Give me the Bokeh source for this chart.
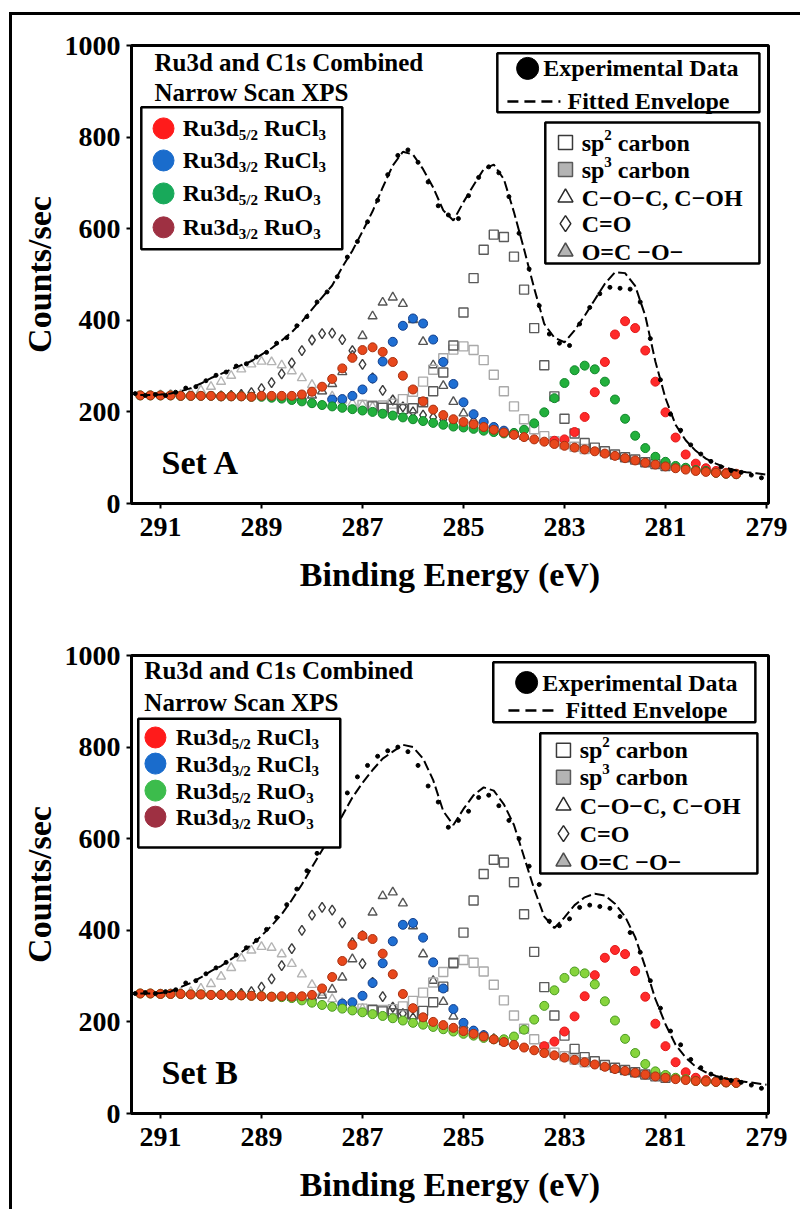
from bokeh.plotting import figure
from bokeh.models import Range1d, FixedTicker
from bokeh.layouts import column
from bokeh.embed import file_html
from bokeh.resources import INLINE
from bokeh.core.properties import value

# ---------------- data ----------------
energy = [291.4, 291.2, 291.0, 290.8, 290.6, 290.4, 290.2, 290.0, 289.8, 289.6,
          289.4, 289.2, 289.0, 288.8, 288.6, 288.4, 288.2, 288.0, 287.8, 287.6,
          287.4, 287.2, 287.0, 286.8, 286.6, 286.4, 286.2, 286.0, 285.8, 285.6,
          285.4, 285.2, 285.0, 284.8, 284.6, 284.4, 284.2, 284.0, 283.8, 283.6,
          283.4, 283.2, 283.0, 282.8, 282.6, 282.4, 282.2, 282.0, 281.8, 281.6,
          281.4, 281.2, 281.0, 280.8, 280.6, 280.4, 280.2, 280.0, 279.8, 279.6]
energy_env = energy + [279.4, 279.2, 279.0]
energy_exp = [291.5, 291.3, 291.1, 290.9, 290.7, 290.5, 290.3, 290.1, 289.9, 289.7,
              289.5, 289.3, 289.1, 288.9, 288.7, 288.5, 288.3, 288.1, 287.9, 287.7,
              287.5, 287.3, 287.1, 286.9, 286.7, 286.5, 286.3, 286.1, 285.9, 285.7,
              285.5, 285.3, 285.1, 284.9, 284.7, 284.5, 284.3, 284.1, 283.9, 283.7,
              283.5, 283.3, 283.1, 282.9, 282.7, 282.5, 282.3, 282.1, 281.9, 281.7,
              281.5, 281.3, 281.1, 280.9, 280.7, 280.5, 280.3, 280.1, 279.9, 279.7,
              279.5, 279.3, 279.1]
x_ticks = [291, 289, 287, 285, 283, 281, 279]
y_ticks = [0, 200, 400, 600, 800, 1000]

# ---- Set A ----
exp_a = [240, 236, 238, 236, 243, 252, 255, 268, 280, 287, 300, 305, 320, 330, 350, 362, 388, 408, 440, 462,
         495, 538, 572, 615, 662, 718, 760, 772, 745, 702, 650, 630, 622, 672, 712, 735, 722, 670, 590, 512,
         432, 370, 350, 345, 392, 428, 458, 472, 470, 468, 440, 360, 270, 195, 160, 128, 108, 92, 80, 72,
         68, 62, 56]
env_a = [237, 237, 238, 240, 245, 252, 262, 274, 283, 293, 302, 311, 325, 339, 356, 374, 397, 424, 450, 476,
         516, 552, 594, 638, 690, 738, 768, 762, 730, 690, 640, 618, 658, 695, 730, 740, 708, 636, 555, 470,
         392, 362, 352, 378, 410, 445, 480, 505, 503, 475, 410, 310, 230, 172, 138, 115, 98, 87, 78, 72,
         68, 66, 63]
red_a_start = 41
red_a = [137, 140, 156, 189, 243, 309, 369, 398, 383, 334, 266, 199, 144, 107, 87, 77, 71, 67, 65]
blue_a_start = 19
blue_a = [227, 228, 235, 249, 273, 310, 353, 388, 404, 393, 358, 309, 261, 221, 195, 178, 167, 159, 153]
green_a = [236, 236, 236, 236, 235, 235, 235, 235, 234, 234, 234, 233, 233, 231, 229, 226, 223, 219, 215, 212,
           209, 206, 203, 200, 196, 192, 188, 184, 180, 176, 172, 168, 166, 163, 159, 156, 153, 154, 161, 175,
           199, 230, 263, 291, 301, 293, 266, 227, 185, 148, 121, 102, 91, 82, 78, 73, 71, 67, 65, 64]
orange_a = [236, 236, 236, 236, 235, 235, 235, 235, 234, 234, 234, 233, 235, 235, 235, 235, 238, 244, 255, 272,
            295, 318, 335, 341, 331, 309, 279, 249, 223, 205, 193, 184, 178, 173, 167, 161, 155, 150, 145, 140,
            135, 130, 126, 122, 118, 114, 109, 104, 99, 94, 89, 85, 81, 77, 74, 71, 69, 67, 65, 64]
sp2_a_start = 23
sp2_a = [212, 209, 207, 206, 208, 221, 245, 286, 345, 417, 492, 554, 587, 582, 539, 467, 383, 302, 234, 185,
         153, 132, 122, 114, 107, 101, 96, 90, 86, 82]
sp3_a_start = 22
sp3_a = [215, 214, 214, 218, 228, 244, 266, 292, 317, 336, 343, 335, 313, 281, 245, 212, 184, 162, 147, 136,
         129, 124, 119]
coc_a_start = 15
coc_a = [232, 233, 236, 245, 261, 287, 323, 366, 409, 439, 450, 436, 401, 353, 302, 257, 222, 197, 181, 170,
         162, 156, 151, 146]
co_a_start = 8
co_a = [235, 236, 238, 242, 251, 264, 283, 307, 334, 357, 371, 372, 358, 334, 304, 274, 247, 226, 211, 200,
        193, 188, 183, 178]
oco_a_start = 2
oco_a = [237, 238, 238, 241, 247, 255, 266, 279, 293, 304, 310, 309, 302, 289, 274, 259, 245, 234, 225, 219,
         215, 211]

# ---- Set B ----
exp_b = [262, 264, 262, 266, 270, 285, 290, 305, 318, 330, 346, 362, 378, 402, 428, 456, 490, 530, 568, 605,
         648, 700, 735, 760, 780, 792, 800, 790, 760, 715, 680, 625, 640, 660, 690, 695, 672, 640, 600, 540,
         500, 420, 410, 425, 450, 455, 452, 448, 430, 395, 352, 290, 230, 180, 150, 118, 100, 86, 78, 72,
         68, 62, 55]
env_b = [262, 262, 263, 266, 276, 285, 297, 311, 322, 337, 352, 368, 388, 410, 435, 466, 500, 538, 575, 610,
         650, 690, 722, 750, 775, 790, 805, 800, 775, 728, 660, 630, 665, 695, 712, 705, 675, 630, 560, 490,
         430, 405, 428, 455, 472, 480, 476, 458, 430, 385, 320, 250, 195, 150, 122, 102, 90, 82, 76, 72,
         69, 66, 63]
red_b_start = 40
red_b = [147, 157, 179, 212, 256, 302, 340, 357, 348, 311, 255, 196, 147, 112, 90, 78, 73, 70, 68, 67]
blue_b_start = 20
blue_b = [240, 243, 257, 285, 328, 376, 412, 416, 384, 330, 273, 228, 198, 181, 171]
green_b = [262, 262, 261, 261, 261, 260, 260, 259, 259, 258, 258, 257, 256, 255, 254, 252, 247, 242, 237, 233,
           229, 225, 221, 217, 213, 208, 203, 198, 194, 189, 184, 179, 174, 170, 165, 162, 162, 168, 183, 205,
           235, 269, 296, 310, 306, 282, 245, 203, 163, 132, 108, 92, 84, 78, 75, 71, 70, 69, 68, 67]
orange_b = [262, 262, 261, 261, 261, 260, 260, 259, 259, 258, 258, 257, 256, 255, 256, 255, 256, 259, 273, 298,
            333, 368, 388, 381, 349, 304, 261, 230, 210, 200, 193, 187, 180, 174, 168, 162, 156, 150, 144, 138,
            132, 127, 122, 117, 112, 107, 102, 97, 93, 89, 85, 81, 78, 75, 73, 71, 70, 69, 68, 67]
sp2_b_start = 23
sp2_b = [226, 223, 219, 217, 216, 224, 243, 277, 329, 395, 465, 523, 554, 548, 505, 435, 353, 276, 214, 170,
         141, 123, 114, 106, 100, 95, 90, 85, 81, 78]
sp3_b_start = 22
sp3_b = [229, 227, 226, 228, 234, 246, 264, 286, 309, 327, 335, 329, 310, 281, 247, 214, 185, 162, 145, 133,
         125, 118, 112]
coc_b_start = 15
coc_b = [253, 253, 253, 258, 271, 297, 337, 388, 439, 475, 483, 459, 409, 348, 290, 244, 212, 192, 179, 170,
         163, 156]
co_b_start = 8
co_b = [260, 260, 262, 266, 276, 294, 323, 360, 400, 433, 450, 444, 416, 373, 327, 286, 255, 232, 218, 209,
        202, 195]
oco_b_start = 2
oco_b = [261, 262, 264, 266, 273, 283, 299, 318, 339, 356, 364, 362, 348, 327, 304, 281, 264, 250, 241, 234,
         229]

title_lines = ["Ru3d and C1s Combined", "Narrow Scan XPS"]
ru_labels = [[("Ru3d", "n"), ("5/2", "sub"), (" RuCl", "n"), ("3", "sub")],
             [("Ru3d", "n"), ("3/2", "sub"), (" RuCl", "n"), ("3", "sub")],
             [("Ru3d", "n"), ("5/2", "sub"), (" RuO", "n"), ("3", "sub")],
             [("Ru3d", "n"), ("3/2", "sub"), (" RuO", "n"), ("3", "sub")]]
c_labels = [[("sp", "n"), ("2", "sup"), (" carbon", "n")],
            [("sp", "n"), ("3", "sup"), (" carbon", "n")],
            [("C\u2212O\u2212C, C\u2212OH", "n")],
            [("C=O", "n")],
            [("O=C \u2212O\u2212", "n")]]

# ---------------- drawing ----------------
FONT = "Liberation Serif"
WID = {' ': 250, 'R': 722, 'u': 556, '3': 500, 'd': 556, '5': 500, '/': 278, '2': 500, 'C': 722,
       'l': 278, 'O': 778, 's': 389, 'p': 556, 'c': 444, 'a': 500, 'r': 444, 'b': 556, 'o': 500, 'n': 556}


def tw(s, size):
    return sum(WID.get(ch, 500) for ch in s) * size / 1000.0


def txt(p, x, y, s, size=24, dx=0.0, dy=0.0):
    p.text(x=[x], y=[y], text=[s], x_offset=dx, y_offset=dy, text_font=value(FONT),
           text_font_style="bold", text_font_size=f"{size}px", text_baseline="middle",
           text_align="left", text_color="black")


def rich(p, x, y, parts, size=24):
    small = round(size * 0.62)
    off = 0.0
    for s, kind in parts:
        sz = size if kind == "n" else small
        dy = 0 if kind == "n" else (7 if kind == "sub" else -8)
        lead = len(s) - len(s.lstrip(" "))
        off += lead * WID[" "] * sz / 1000.0
        core = s.lstrip(" ")
        txt(p, x, y, core, sz, off, dy)
        off += tw(core, sz)


def seg(start, vals):
    return energy[start:start + len(vals)], vals


def panel(cfg):
    p = figure(width=788, height=cfg["height"], output_backend="svg", toolbar_location=None,
               x_range=Range1d(291.574, 278.96), y_range=Range1d(0, 1000),
               min_border_left=119, min_border_right=32,
               min_border_top=cfg["bt"], min_border_bottom=cfg["bb"],
               background_fill_color="white", border_fill_color="white")
    p.xgrid.visible = False
    p.ygrid.visible = False
    p.outline_line_color = "black"
    p.outline_line_width = 3
    p.xaxis.ticker = FixedTicker(ticks=x_ticks)
    p.yaxis.ticker = FixedTicker(ticks=y_ticks)
    p.xaxis.axis_label = "Binding Energy (eV)"
    p.yaxis.axis_label = "Counts/sec"
    for ax in (p.xaxis[0], p.yaxis[0]):
        ax.axis_line_width = 3
        ax.axis_line_color = "black"
        ax.major_tick_line_width = 2
        ax.major_tick_line_color = "black"
        ax.major_tick_in = 0
        ax.major_tick_out = 5
        ax.minor_tick_line_color = None
        ax.major_label_text_font = FONT
        ax.major_label_text_font_style = "bold"
        ax.major_label_text_font_size = "28px"
        ax.major_label_text_color = "black"
        ax.axis_label_text_font = FONT
        ax.axis_label_text_font_style = "bold"
        ax.axis_label_text_font_size = "34px"
        ax.axis_label_text_color = "black"
    p.xaxis.major_label_standoff = 9
    p.xaxis.axis_label_standoff = 17
    p.yaxis.major_label_standoff = 6
    p.yaxis.axis_label_standoff = 4

    # carbon components (open grey markers)
    for key, marker, col, sz in [("oco", "triangle", "#b4b4b4", 9), ("co", "diamond", "#3c3c3c", 10),
                                 ("coc", "triangle", "#555555", 9), ("sp3", "square", "#a9a9a9", 9),
                                 ("sp2", "square", "#5a5a5a", 9)]:
        xs, ys = seg(*cfg[key])
        p.scatter(xs, ys, marker=marker, size=sz, line_color=col, line_width=1.4,
                  fill_color="white", fill_alpha=0.0)
    # Ru components
    xs, ys = seg(*cfg["red"])
    p.scatter(xs, ys, marker="circle", size=9, fill_color="#ff2a2a", line_color="#e01818", line_width=1)
    xs, ys = seg(*cfg["blue"])
    p.scatter(xs, ys, marker="circle", size=9, fill_color="#1f6fd3", line_color="#123f8c", line_width=1)
    p.scatter(energy, cfg["green"], marker="circle", size=9, fill_color=cfg["gfill"],
              line_color=cfg["gline"], line_width=1)
    p.scatter(energy, cfg["orange"], marker="circle", size=9, fill_color="#e8481c",
              line_color="#a8300f", line_width=1)
    # envelope and data
    p.line(energy_env, cfg["env"], line_color="black", line_width=2, line_dash="10 4")
    p.scatter(energy_exp, cfg["exp"], marker="circle", size=4, fill_color="black", line_color="black")

    # title
    tx, ty1, ty2 = cfg["title"]
    txt(p, tx, ty1, title_lines[0], 25)
    txt(p, tx, ty2, title_lines[1], 25)

    # Ru legend
    l, r, t, b = cfg["lbox"]
    p.quad(left=[l], right=[r], top=[t], bottom=[b], fill_color="white", line_color="black", line_width=2.5)
    for row, colr, parts in zip(cfg["lrows"], cfg["lcolors"], ru_labels):
        p.scatter([cfg["lmx"]], [row], marker="circle", size=21, fill_color=colr, line_color=colr)
        rich(p, cfg["ltx"], row, parts)

    # data / envelope legend
    l, r, t, b = cfg["r1box"]
    p.quad(left=[l], right=[r], top=[t], bottom=[b], fill_color="white", line_color="black", line_width=2.5)
    cx, cy = cfg["r1circ"]
    p.scatter([cx], [cy], marker="circle", size=22, fill_color="black", line_color="black")
    txt(p, cfg["r1t1"], cy, "Experimental Data")
    d1, d2, dy = cfg["r1dash"]
    p.line([d1, d2], [dy, dy], line_color="black", line_width=2.5, line_dash="11 6")
    txt(p, cfg["r1t2"], dy, "Fitted Envelope")

    # carbon legend
    l, r, t, b = cfg["r2box"]
    p.quad(left=[l], right=[r], top=[t], bottom=[b], fill_color="white", line_color="black", line_width=2.5)
    mk = [("square", "white", "#3a3a3a", 14), ("square", "#b4b4b4", "#5a5a5a", 14),
          ("triangle", "white", "#2a2a2a", 15), ("diamond", "white", "#2a2a2a", 16),
          ("triangle", "#b4b4b4", "#4a4a4a", 15)]
    for row, (m, fc, lc, sz), parts in zip(cfg["r2rows"], mk, c_labels):
        p.scatter([cfg["r2mx"]], [row], marker=m, size=sz, fill_color=fc, line_color=lc, line_width=1.5)
        rich(p, cfg["r2tx"], row, parts)

    sx, sy = cfg["setpos"]
    txt(p, sx, sy, cfg["setlabel"], size=34)
    return p


cfg_a = dict(height=595, bt=30, bb=107, exp=exp_a, env=env_a,
             red=(red_a_start, red_a), blue=(blue_a_start, blue_a), green=green_a, orange=orange_a,
             sp2=(sp2_a_start, sp2_a), sp3=(sp3_a_start, sp3_a), coc=(coc_a_start, coc_a),
             co=(co_a_start, co_a), oco=(oco_a_start, oco_a),
             gfill="#22b03c", gline="#11862b",
             title=(291.12, 963, 897),
             lbox=(291.38, 287.40, 865, 555), lmx=290.94, ltx=290.56, lrows=[819, 749, 677, 603],
             lcolors=["#ff1b1b", "#1a6ccc", "#18a95a", "#9e3042"],
             r1box=(284.33, 279.14, 983, 854), r1circ=(283.73, 950), r1t1=283.42,
             r1dash=(284.13, 283.08, 878), r1t2=282.94,
             r2box=(283.38, 279.14, 832, 524), r2mx=282.98, r2tx=282.66, r2rows=[788, 729, 668, 611, 550],
             setpos=(290.98, 90), setlabel="Set A")

cfg_b = dict(height=599, bt=45, bb=96, exp=exp_b, env=env_b,
             red=(red_b_start, red_b), blue=(blue_b_start, blue_b), green=green_b, orange=orange_b,
             sp2=(sp2_b_start, sp2_b), sp3=(sp3_b_start, sp3_b), coc=(coc_b_start, coc_b),
             co=(co_b_start, co_b), oco=(oco_b_start, oco_b),
             gfill="#86d43c", gline="#4a9a22",
             title=(291.32, 967, 897),
             lbox=(291.44, 287.44, 862, 581), lmx=291.10, ltx=290.70, lrows=[821, 764, 705, 648],
             lcolors=["#ff1b1b", "#1a6ccc", "#3cbc4c", "#9e3042"],
             r1box=(284.41, 279.22, 985, 854), r1circ=(283.75, 941), r1t1=283.44,
             r1dash=(284.11, 283.10, 880), r1t2=282.98,
             r2box=(283.48, 279.18, 830, 524), r2mx=283.02, r2tx=282.70, r2rows=[793, 734, 672, 611, 550],
             setpos=(290.98, 90), setlabel="Set B")

pa = panel(cfg_a)
pb = panel(cfg_b)

layout = column(pa, pb, spacing=0,
                styles={"border-left": "3px solid black", "border-top": "3px solid black",
                        "margin-left": "9px", "margin-top": "12px"})

open("out.html", "w").write(file_html(layout, INLINE))
